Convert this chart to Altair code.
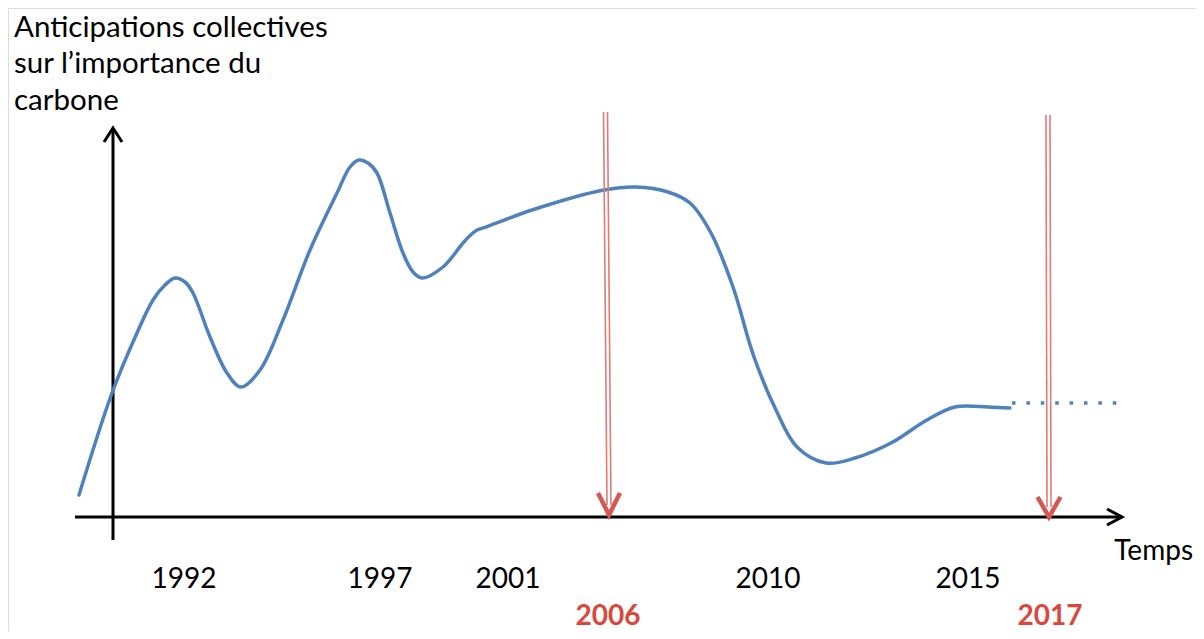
import altair as alt
import pandas as pd

# ---- data (abstract units: t = time position, v = level; axes cross at t=0, v=0) ----
curve_t = [-3.4, -0.1, 2.4, 4.0, 5.2, 6.2, 7.2, 8.0, 9.7, 11.4, 12.8, 14.7, 17.0, 19.7,
           22.4, 23.7, 24.6, 25.5, 26.4, 27.7, 29.0, 30.0, 30.9, 33.0, 35.0, 35.9, 36.4, 37.2,
           41.9, 49.1, 52.3, 55.5, 57.7, 59.8, 62.0, 64.1, 66.3, 68.4, 71.3, 74.2, 77.8, 81.4,
           84.2, 87.5, 89.7]
curve_v = [5.5, 31.0, 46.0, 54.25, 58.0, 59.75, 58.75, 56.0, 45.0, 36.0, 32.5, 36.75, 49.25,
           66.75, 81.0, 87.5, 89.25, 88.5, 86.0, 76.0, 66.0, 61.25, 59.75, 62.5, 68.5, 70.8,
           71.75, 72.4, 76.75, 81.75, 82.5, 81.25, 78.5, 71.0, 57.5, 40.0, 26.75, 17.5, 13.5,
           14.75, 18.5, 24.25, 27.5, 27.5, 27.25]

dotted_t = [89.9, 100.4]
dotted_v = [28.5, 28.5]

year_labels = ["1992", "1997", "2001", "2010", "2015"]
year_t = [7.1, 26.7, 39.5, 65.5, 85.5]
year_v = [-17.75, -17.75, -17.75, -17.75, -17.75]

event_labels = ["2006", "2017"]
event_t = [49.5, 93.7]
event_v = [-27.0, -27.0]
event_top_t = [49.25, 93.5]
event_top_v = [101.25, 100.5]
event_bottom_t = [49.6, 93.6]
event_bottom_v = [3.0, 2.5]
event_head_back = [5.5, 5.0]
event_head_half = [1.1, 1.15]
event_tip_v = [0.5, 0.0]

title_lines = ["Anticipations collectives", "sur l\u2019importance du", "carbone"]
title_t = [-9.9, -9.9, -9.9]
title_v = [120.0, 110.9, 101.75]

x_label = "Temps"
x_label_t = 108.0
x_label_v = -10.75

# axes (with arrow heads)
axis_seg = ["x", "x", "xh", "xh", "xh", "y", "y", "yh", "yh", "yh"]
axis_ord = [0, 1, 0, 1, 2, 0, 1, 0, 1, 2]
axis_t = [-3.8, 100.9, 99.4, 100.9, 99.4, 0.0, 0.0, -0.9, 0.0, 0.9]
axis_v = [0.0, 0.0, 2.0, 0.0, -2.0, -5.75, 97.25, 93.75, 97.25, 93.75]

X_DOM = [-10.5, 108.3]
Y_DOM = [-28.5, 127.25]

BLUE = "#4F81BD"
RED_TEXT = "#D9483F"
RED_LINE = "#E07B78"
RED_HEAD = "#D45853"
FONT = "Lato"

xs = alt.Scale(domain=X_DOM, nice=False, zero=False)
ys = alt.Scale(domain=Y_DOM, nice=False, zero=False)

def X(f="t"):
    return alt.X(f"{f}:Q", scale=xs, axis=None)

def Y(f="v"):
    return alt.Y(f"{f}:Q", scale=ys, axis=None)

# ---- tables ----
curve_df = pd.DataFrame({"t": curve_t, "v": curve_v})
dotted_df = pd.DataFrame({"t": dotted_t, "v": dotted_v})
axis_df = pd.DataFrame({"seg": axis_seg, "ord": axis_ord, "t": axis_t, "v": axis_v})

rule_rows = []
head_rows = []
for i, lab in enumerate(event_labels):
    for off in (-0.2, 0.2):
        rule_rows.append({"t": event_top_t[i] + off, "v": event_top_v[i],
                          "t2": event_bottom_t[i] + off, "v2": event_bottom_v[i]})
    tip_t = event_bottom_t[i]
    head_rows += [
        {"seg": lab, "ord": 0, "t": tip_t - event_head_half[i], "v": event_tip_v[i] + event_head_back[i]},
        {"seg": lab, "ord": 1, "t": tip_t, "v": event_tip_v[i]},
        {"seg": lab, "ord": 2, "t": tip_t + event_head_half[i], "v": event_tip_v[i] + event_head_back[i]},
    ]
rule_df = pd.DataFrame(rule_rows)
head_df = pd.DataFrame(head_rows)

years_df = pd.DataFrame({"label": year_labels, "t": year_t, "v": year_v})
events_df = pd.DataFrame({"label": event_labels, "t": event_t, "v": event_v})
title_df = pd.DataFrame({"label": title_lines, "t": title_t, "v": title_v})
xlab_df = pd.DataFrame({"label": [x_label], "t": [x_label_t], "v": [x_label_v]})

# ---- layers ----
axes = alt.Chart(axis_df).mark_line(color="black", strokeWidth=3, strokeJoin="miter").encode(
    x=X(), y=Y(), detail="seg:N", order="ord:Q")

curve = alt.Chart(curve_df).mark_line(color=BLUE, strokeWidth=3.5, interpolate="catmull-rom",
                                      strokeCap="round").encode(x=X(), y=Y())

dotted = alt.Chart(dotted_df).mark_line(color=BLUE, strokeWidth=3.5, strokeDash=[3.5, 10.9]).encode(
    x=X(), y=Y())

rules = alt.Chart(rule_df).mark_rule(color=RED_LINE, strokeWidth=1.6).encode(
    x=X(), y=Y(), x2="t2:Q", y2="v2:Q")

heads = alt.Chart(head_df).mark_line(color=RED_HEAD, strokeWidth=4.5, strokeJoin="miter").encode(
    x=X(), y=Y(), detail="seg:N", order="ord:Q")

years = alt.Chart(years_df).mark_text(font=FONT, fontSize=28, color="black", baseline="alphabetic",
                                      align="center").encode(x=X(), y=Y(), text="label:N")

events = alt.Chart(events_df).mark_text(font=FONT, fontSize=28, fontWeight="bold", color=RED_TEXT,
                                        baseline="alphabetic", align="center").encode(
    x=X(), y=Y(), text="label:N")

title = alt.Chart(title_df).mark_text(font=FONT, fontSize=29.5, color="black", baseline="alphabetic",
                                      align="left").encode(x=X(), y=Y(), text="label:N")

xlab = alt.Chart(xlab_df).mark_text(font=FONT, fontSize=28, color="black", baseline="alphabetic",
                                    align="right").encode(x=X(), y=Y(), text="label:N")

chart = alt.layer(axes, curve, dotted, rules, heads, years, events, title, xlab).properties(
    width=1188, height=623, padding=0, autosize=alt.AutoSizeParams(type="none")
).configure_view(stroke=None).configure(background="white")

chart.save("out.html", embed_options={"renderer": "svg", "actions": False})
